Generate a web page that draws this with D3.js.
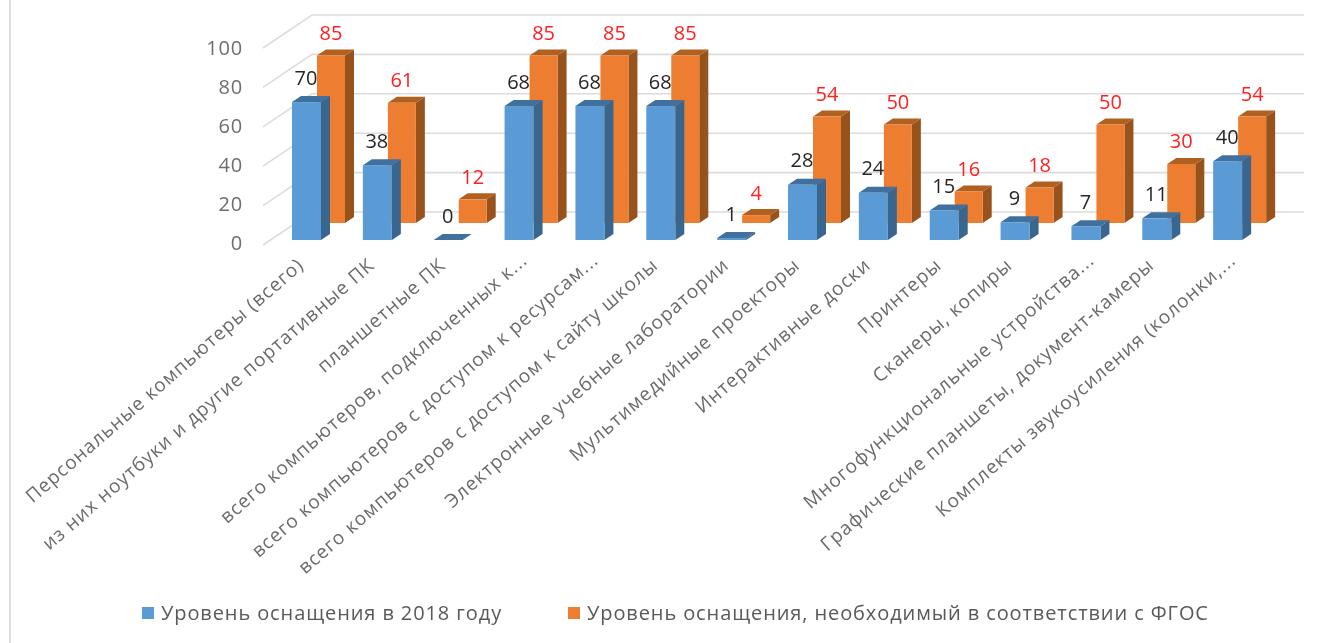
<!DOCTYPE html>
<html>
<head>
<meta charset="utf-8">
<script src="https://d3js.org/d3.v7.min.js"></script>
<style>
  html, body { margin: 0; padding: 0; background: #fff; }
  svg { display: block; filter: blur(0.45px); }
  text { font-family: "Open Sans", sans-serif; }
</style>
</head>
<body>
<div id="chart"></div>
<script>
const categories = [
  'Персональные компьютеры (всего)',
  'из них ноутбуки и другие портативные ПК',
  'планшетные ПК',
  'всего компьютеров, подключенных к...',
  'всего компьютеров с доступом к ресурсам...',
  'всего компьютеров с доступом к сайту школы',
  'Электронные учебные лаборатории',
  'Мультимедийные проекторы',
  'Интерактивные доски',
  'Принтеры',
  'Сканеры, копиры',
  'Многофункциональные устройства...',
  'Графические планшеты, документ-камеры',
  'Комплекты звукоусиления (колонки,...'
]
const values2018 = [70, 38, 0, 68, 68, 68, 1, 28, 24, 15, 9, 7, 11, 40]
const valuesFgos = [85, 61, 12, 85, 85, 85, 4, 54, 50, 16, 18, 50, 30, 54]
const yTicks = [0, 20, 40, 60, 80, 100]
const legendLabels = ['Уровень оснащения в 2018 году', 'Уровень оснащения, необходимый в соответствии с ФГОС']

const width = 1319
const height = 643

const svg = d3.select('#chart').append('svg')
  .attr('width', width)
  .attr('height', height)

// left edge of the pasted picture
svg.append('line')
  .attr('x1', 10).attr('x2', 10)
  .attr('y1', 0).attr('y2', height)
  .attr('stroke', '#dedede')
  .attr('stroke-width', 2)

let x = d3.scaleBand().domain(categories).range([271, 1263])
// back wall of the 3d box, the floor comes forward from it
let y = d3.scaleLinear().domain([0, 100]).range([212, 15])
let yAxisScale = d3.scaleLinear().domain([0, 100]).range([243, 48])

let floorDx = 49
let floorDy = 33
let wallLeft = 263
let wallRight = 1304

svg.selectAll('.grid').data(yTicks).enter().append('polyline')
  .attr('class', 'grid')
  .attr('points', d => `${wallLeft},${y(d) + floorDy} ${wallLeft + floorDx},${y(d)} ${wallRight},${y(d)}`)
  .attr('fill', 'none')
  .attr('stroke', '#dcdcdc')
  .attr('stroke-width', 1.6)

let yAxis = d3.axisLeft(yAxisScale).tickValues(yTicks).tickSize(0).tickPadding(0)
let yAxisG = svg.append('g').attr('transform', 'translate(243,0)').call(yAxis)
yAxisG.select('.domain').remove()
yAxisG.selectAll('text')
  .style('font-size', '20px')
  .style('font-family', '"Open Sans", sans-serif')
  .style('letter-spacing', '0.8px')
  .attr('fill', '#6e6e6e')

let depthX = 9
let depthY = 6

function renderBars(values, opts) {
  const g = svg.append('g')
  const barH = d => y(0) - y(d)
  const left = (d, i) => x(categories[i]) + opts.offset
  const top = d => opts.base - barH(d)

  // right side
  g.selectAll('.side').data(values).enter().append('polygon')
    .attr('points', (d, i) => {
      const r = left(d, i) + opts.w
      return `${r},${top(d)} ${r + depthX},${top(d) - depthY} ${r + depthX},${opts.base - depthY} ${r},${opts.base}`
    })
    .attr('fill', opts.side)

  // top
  g.selectAll('.top').data(values).enter().append('polygon')
    .attr('points', (d, i) => {
      const l = left(d, i)
      return `${l},${top(d)} ${l + depthX},${top(d) - depthY} ${l + opts.w + depthX},${top(d) - depthY} ${l + opts.w},${top(d)}`
    })
    .attr('fill', opts.top)

  // front
  g.selectAll('.front').data(values).enter().append('rect')
    .attr('x', left)
    .attr('y', top)
    .attr('width', opts.w)
    .attr('height', barH)
    .attr('fill', opts.front)
}

renderBars(valuesFgos, { offset: 46, w: 28, base: 223, front: '#ED7D31', side: '#98521C', top: '#B0601F' })
renderBars(values2018, { offset: 21, w: 29, base: 240, front: '#5B9BD5', side: '#38668E', top: '#3F709E' })

function renderLabels(values, opts) {
  svg.append('g').selectAll('text').data(values).enter().append('text')
    .attr('x', (d, i) => x(categories[i]) + opts.dx)
    .attr('y', d => opts.base - (y(0) - y(d)) - opts.lift)
    .attr('text-anchor', 'middle')
    .attr('dominant-baseline', 'central')
    .attr('fill', opts.color)
    .style('font-size', '20px')
    .text(d => d)
}
renderLabels(valuesFgos, { dx: 60, base: 223, lift: 23, color: '#FF2020' })
renderLabels(values2018, { dx: 35, base: 240, lift: 25, color: '#262626' })

// category labels: right end sits under the bars, cut ones run a bit further
svg.append('g').selectAll('text').data(categories).enter().append('text')
  .attr('transform', d => {
    const cut = d.endsWith('...')
    const ex = x(d) + 34 + (cut ? 11 : 0)
    const ey = cut ? 262 : 267
    return `translate(${ex},${ey}) rotate(-41)`
  })
  .attr('text-anchor', 'end')
  .attr('fill', '#6a6a6a')
  .style('font-size', '19px')
  .style('letter-spacing', '1px')
  .text(d => d)

// legend
let legendX = [142, 568]
let legendColors = ['#5B9BD5', '#ED7D31']
let legend = svg.append('g').selectAll('g').data(legendLabels).enter().append('g')
  .attr('transform', (d, i) => `translate(${legendX[i]},607)`)
legend.append('rect')
  .attr('width', 12).attr('height', 12)
  .attr('fill', (d, i) => legendColors[i])
legend.append('text')
  .attr('x', 19).attr('y', 13)
  .attr('fill', '#595959')
  .style('font-size', '20px')
  .style('letter-spacing', '0.9px')
  .text(d => d)
</script>
</body>
</html>
